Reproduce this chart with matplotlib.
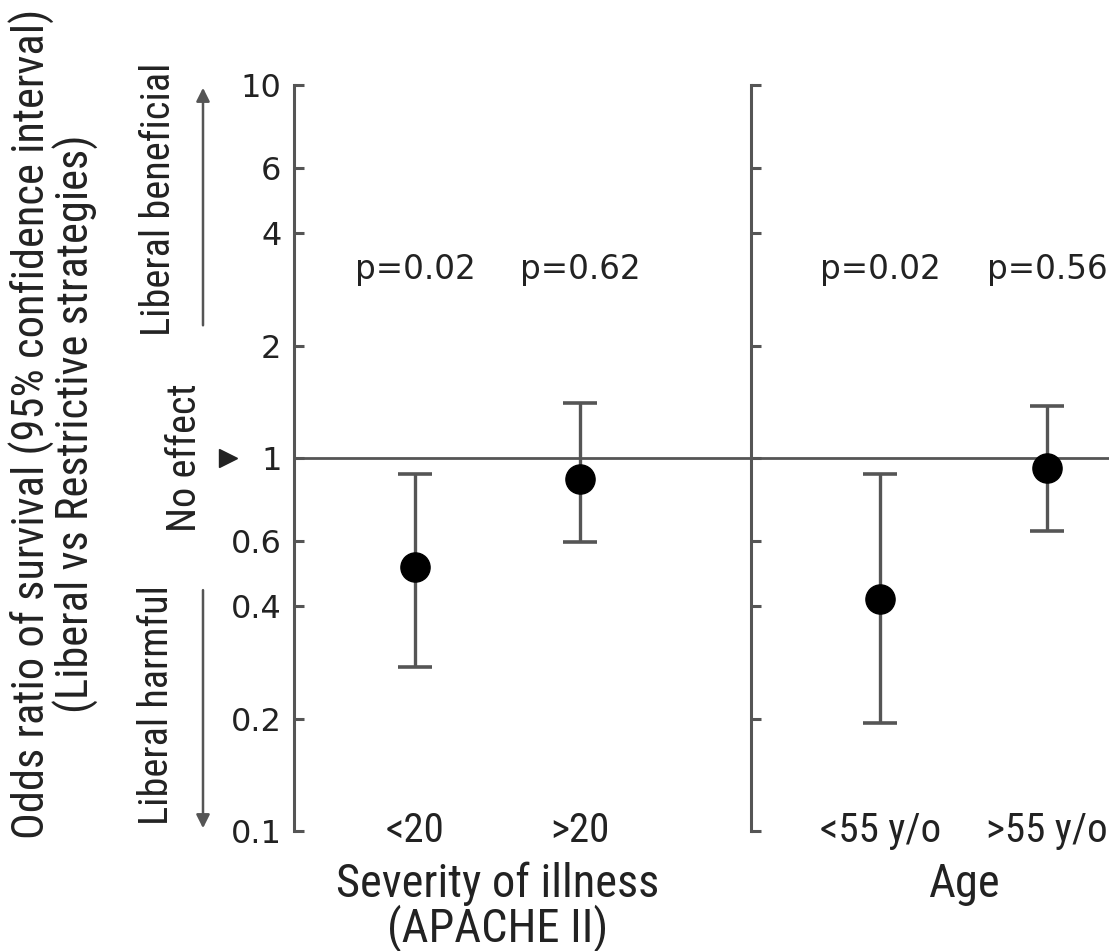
import numpy as np
import matplotlib.pyplot as plt
from matplotlib.ticker import FixedLocator, NullLocator
from matplotlib.transforms import blended_transform_factory

# data
groups = ['Severity of illness\n(APACHE II)', 'Age']
categories = [['<20', '>20'], ['<55 y/o', '>55 y/o']]
odds = [[0.51, 0.88], [0.42, 0.94]]
ci_low = [[0.275, 0.595], [0.195, 0.637]]
ci_high = [[0.905, 1.40], [0.905, 1.38]]
pvalues = [['p=0.02', 'p=0.62'], ['p=0.02', 'p=0.56']]

yticks = [0.1, 0.2, 0.4, 0.6, 1, 2, 4, 6, 10]
yticklabels = ['0.1', '0.2', '0.4', '0.6', '1', '2', '4', '6', '10']
ylabel = 'Odds ratio of survival (95% confidence interval)\n(Liberal vs Restrictive strategies)'

narrow = ['Roboto Condensed', 'Liberation Sans', 'DejaVu Sans']
wide = ['DejaVu Sans']
ink = '#222222'
grey = '#555555'

W, H = 1109, 951
fig = plt.figure(figsize=(W / 100, H / 100), dpi=100)
bottom = 1 - 831 / H
height = (831 - 85) / H

ax1 = fig.add_axes([294 / W, bottom, (751 - 294) / W, height])
ax2 = fig.add_axes([751 / W, bottom, (W - 751) / W, height], sharey=ax1)

xlims = [(0.267, 3.036), (0.223, 2.373)]
for k, ax in enumerate([ax1, ax2]):
    ax.set_yscale('log')
    ax.set_ylim(0.1, 10)
    ax.set_xlim(*xlims[k])
    for s in ['top', 'right', 'bottom']:
        ax.spines[s].set_visible(False)
    ax.spines['left'].set_color(grey)
    ax.spines['left'].set_linewidth(2.2)
    ax.yaxis.set_major_locator(FixedLocator(yticks))
    ax.yaxis.set_minor_locator(NullLocator())
    ax.tick_params(axis='y', direction='in', length=7, width=2.2, color=grey,
                   pad=9, labelsize=23, labelcolor=ink)
    ax.set_xticks([])
    ax.axhline(1, color=grey, lw=2.0, zorder=1)

    x = np.arange(1, len(categories[k]) + 1)
    o = np.array(odds[k])
    lo = o - np.array(ci_low[k])
    hi = np.array(ci_high[k]) - o
    ax.errorbar(x, o, yerr=[lo, hi], fmt='o', color='black', ms=21,
                ecolor=grey, elinewidth=2.4, capsize=12, capthick=2.6, zorder=3)
    for xi, lab, p in zip(x, categories[k], pvalues[k]):
        ax.text(xi, 3.2, p, ha='center', va='center', fontsize=23.5,
                family=wide, color=ink)
        ax.text(xi, 0.1, lab, ha='center', va='center', fontsize=29.5,
                family=narrow, color=ink)
    bt = blended_transform_factory(ax.transData, fig.transFigure)
    ax.text(np.mean(x), 1 - 862 / H, groups[k], ha='center', va='top', fontsize=33.5,
            family=narrow, color=ink, linespacing=0.95, transform=bt)

ax1.set_yticklabels(yticklabels)
for lbl in ax1.get_yticklabels():
    lbl.set_family(wide)
ax2.tick_params(axis='y', labelleft=False)

# left-margin annotations
side = blended_transform_factory(fig.transFigure, ax1.transData)
xa = 203 / W
arrow = dict(arrowstyle='-|>', color=grey, lw=1.8, mutation_scale=20)
ax1.annotate('', xy=(xa, 10), xytext=(xa, 2.23),
             xycoords=('figure fraction', 'data'), arrowprops=arrow, annotation_clip=False)
ax1.annotate('', xy=(xa, 0.1), xytext=(xa, 0.45),
             xycoords=('figure fraction', 'data'), arrowprops=arrow, annotation_clip=False)
ax1.plot([228 / W], [1], marker='>', ms=13, color=ink, transform=side, clip_on=False)

ax1.text(158 / W, 4.95, 'Liberal beneficial', rotation=90, ha='center', va='center',
         fontsize=29, family=narrow, color=ink, transform=side)
ax1.text(157 / W, 0.218, 'Liberal harmful', rotation=90, ha='center', va='center',
         fontsize=29, family=narrow, color=ink, transform=side)
ax1.text(184 / W, 1.0, 'No effect', rotation=90, ha='center', va='center',
         fontsize=29, family=narrow, color=ink, transform=side)

fig.text(54 / W, 1 - 424 / H, ylabel, rotation=90, ha='center', va='center',
         multialignment='center', linespacing=0.93, fontsize=32, family=narrow, color=ink)

fig.savefig('out.png', dpi=100)
